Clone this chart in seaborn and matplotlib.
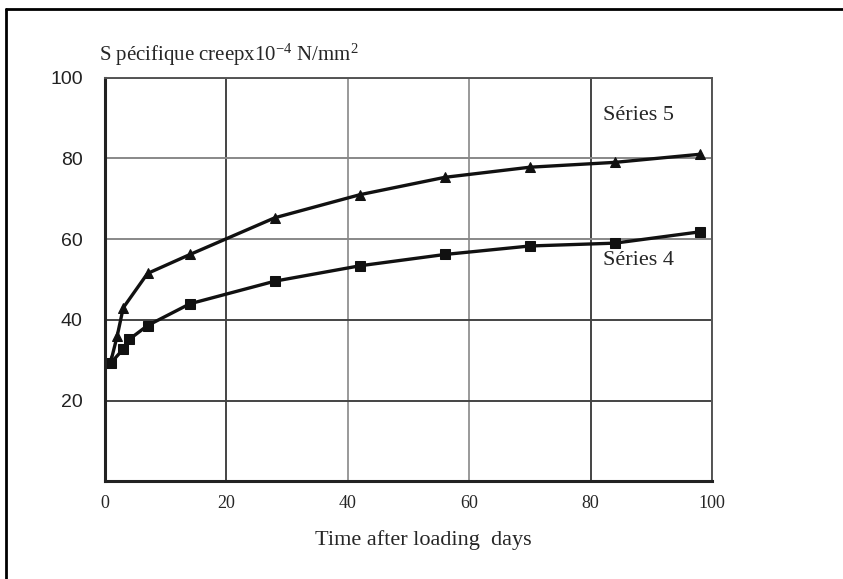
import matplotlib
matplotlib.use("Agg")
import matplotlib.pyplot as plt
from matplotlib.lines import Line2D
import seaborn as sns
import pandas as pd

# ---- data ----
days_s4 = [1, 3, 4, 7, 14, 28, 42, 56, 70, 84, 98]
creep_s4 = [29.4, 32.8, 35.2, 38.6, 44.0, 49.6, 53.4, 56.2, 58.3, 59.0, 61.8]
days_s5 = [1, 2, 3, 7, 14, 28, 42, 56, 70, 84, 98]
creep_s5 = [30.0, 36.0, 43.0, 51.5, 56.2, 65.3, 71.0, 75.3, 77.8, 79.0, 81.0]
series_names = ["Séries 4", "Séries 5"]
x_ticks = [0, 20, 40, 60, 80, 100]
y_ticks = [20, 40, 60, 80, 100]
y_label = r"S pécifique creepx10$^{-4}$ N/mm$^{2}$"
x_label = "Time after loading  days"

df = pd.concat([
    pd.DataFrame({"days": days_s4, "creep": creep_s4, "serie": series_names[0]}),
    pd.DataFrame({"days": days_s5, "creep": creep_s5, "serie": series_names[1]}),
])

sns.set_style("white")
plt.rcParams["font.family"] = ["Liberation Serif", "DejaVu Serif"]
plt.rcParams["mathtext.fontset"] = "custom"
plt.rcParams["mathtext.rm"] = "Liberation Serif"
plt.rcParams["mathtext.it"] = "Liberation Serif"

fig = plt.figure(figsize=(8.43, 5.79), dpi=100)
fig.patch.set_facecolor("white")
ax = fig.add_axes([0.1246, 0.1684, 0.72, 0.6977])

sns.lineplot(data=df, x="days", y="creep", hue="serie", style="serie",
             markers={series_names[0]: "s", series_names[1]: "^"},
             dashes=False, palette={series_names[0]: "#111111", series_names[1]: "#111111"},
             markersize=7.5, linewidth=2.4, markeredgecolor="#111111",
             legend=False, ax=ax, sort=False)

ax.set_xlim(0, 100)
ax.set_ylim(0, 100)
ax.set_xticks(x_ticks)
ax.set_yticks(y_ticks)
ax.set_xticklabels([str(v) for v in x_ticks], fontsize=13, family="Liberation Serif")
ax.set_yticklabels([str(v) for v in y_ticks], fontsize=14, family="Liberation Sans",
                   color="#222222")
ax.tick_params(axis="both", length=0)
ax.tick_params(axis="x", pad=10)
ax.tick_params(axis="y", pad=16)
ax.set_xlabel("")
ax.set_ylabel("")

ax.grid(True, color="#444444", linewidth=1.4)
light = {40, 60}
for gl, v in zip(ax.get_xgridlines(), x_ticks):
    if v in light:
        gl.set_color("#999999")
for gl, v in zip(ax.get_ygridlines(), y_ticks):
    if v in (60, 80):
        gl.set_color("#888888")

for side in ["left", "bottom"]:
    ax.spines[side].set_color("#222222")
    ax.spines[side].set_linewidth(2.2)
for side in ["top", "right"]:
    ax.spines[side].set_color("#555555")
    ax.spines[side].set_linewidth(1.4)

ax.text(82, 90.5, series_names[1], fontsize=16, va="center", ha="left")
ax.text(82, 54.8, series_names[0], fontsize=16, va="center", ha="left")

fig.text(99 / 843, 1 - 55 / 579, y_label, fontsize=15, ha="left", va="center")
fig.text(423 / 843, 1 - 540 / 579, x_label, fontsize=16, ha="center", va="center")

# outer frame (top and left edges only)
fig.add_artist(Line2D([6 / 843, 1.0], [1 - 9 / 579, 1 - 9 / 579], color="black",
                      linewidth=2.0, transform=fig.transFigure))
fig.add_artist(Line2D([6 / 843, 6 / 843], [0.0, 1 - 9 / 579], color="black",
                      linewidth=2.0, transform=fig.transFigure))

fig.savefig("out.png", dpi=100, facecolor="white")
